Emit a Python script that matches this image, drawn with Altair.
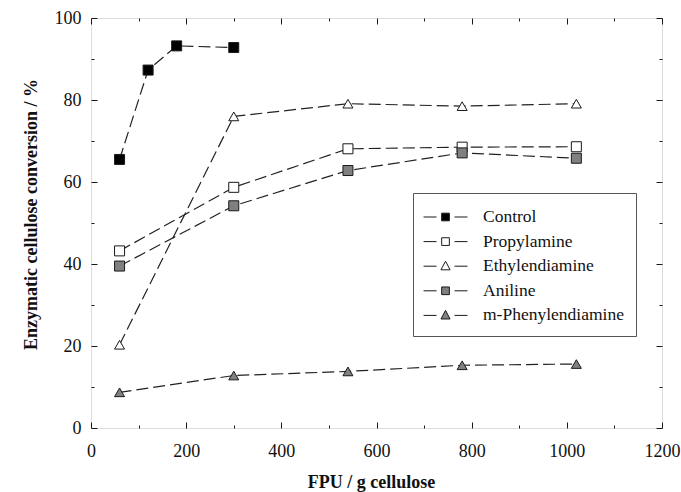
import altair as alt
import pandas as pd

series = ["Control", "Propylamine", "Ethylendiamine", "Aniline", "m-Phenylendiamine"]
control_x = [60, 120, 180, 300]
control_y = [65.5, 87.3, 93.2, 92.8]
dose_x = [60, 300, 540, 780, 1020]
propylamine_y = [43.2, 58.7, 68.1, 68.5, 68.6]
ethylendiamine_y = [20.3, 76.0, 79.1, 78.5, 79.1]
aniline_y = [39.5, 54.2, 62.8, 67.1, 65.8]
phenylendiamine_y = [8.7, 12.8, 13.8, 15.3, 15.6]

x_major = [0, 200, 400, 600, 800, 1000, 1200]
x_minor = [100, 300, 500, 700, 900, 1100]
y_major = [0, 20, 40, 60, 80, 100]
y_minor = [10, 30, 50, 70, 90]

fills = ["#000000", "#ffffff", "#ffffff", "#808080", "#808080"]
strokes = ["#1a1a1a"] * 5
shapes = ["square", "square", "triangle-up", "square", "triangle-up"]

rows = []
for xv, yv in zip(control_x, control_y):
    rows.append({"series": "Control", "x": xv, "y": yv})
for name, ys in [("Propylamine", propylamine_y), ("Ethylendiamine", ethylendiamine_y),
                 ("Aniline", aniline_y), ("m-Phenylendiamine", phenylendiamine_y)]:
    for xv, yv in zip(dose_x, ys):
        rows.append({"series": name, "x": xv, "y": yv})
df = pd.DataFrame(rows)

# legend symbols: dash - marker - dash (custom paths, shifted right)
s = 0.71
def dashes():
    return f"M{s-1.83:.3f},0L{s-0.75:.3f},0M{s+0.75:.3f},0L{s+1.83:.3f},0"
sq = dashes() + f"M{s-0.32:.3f},-0.32H{s+0.32:.3f}V0.32H{s-0.32:.3f}Z"
tri = dashes() + f"M{s:.3f},-0.42L{s+0.38:.3f},0.3L{s-0.38:.3f},0.3Z"
legend_paths = [sq, sq, tri, sq, tri]

W, H = 571, 410
xs = alt.Scale(domain=[0, 1200], nice=False, zero=False)
ys = alt.Scale(domain=[0, 100], nice=False, zero=False)

FONT = "Liberation Serif, Times New Roman, serif"

def tick_axis(orient, values, size, offset):
    return alt.Axis(orient=orient, values=values, tickSize=size, offset=offset,
                    labels=False, domain=False, title=None, grid=False,
                    tickColor="#1a1a1a", tickWidth=1)

main_x = alt.Axis(orient="bottom", values=x_major, ticks=False, domain=False,
                  labelPadding=14, labelFontSize=18, labelColor="#111111", labelFont=FONT,
                  labelFlush=False, labelOverlap=False, format="d", grid=False,
                  title="FPU / g cellulose", titleFont=FONT, titleFontSize=18,
                  titleFontWeight="bold", titleColor="#111111",
                  titleX=280, titleY=59, titleBaseline="alphabetic")
main_y = alt.Axis(orient="left", values=y_major, ticks=False, domain=False,
                  labelPadding=10, labelFontSize=18, labelColor="#111111", labelFont=FONT,
                  labelFlush=False, labelOverlap=False, format="d", grid=False,
                  title="Enzymatic cellulose conversion / %", titleFont=FONT, titleFontSize=18,
                  titleFontWeight="bold", titleColor="#111111",
                  titleX=-51, titleY=196, titleBaseline="bottom", titleAngle=270)

base = alt.Chart(df)

lines = base.mark_line(strokeDash=[12, 5], strokeWidth=1.2, color="#222222").encode(
    x=alt.X("x:Q", scale=xs, axis=main_x),
    y=alt.Y("y:Q", scale=ys, axis=main_y),
    detail="series:N",
)

points = base.mark_point(filled=True, size=100, stroke="#1a1a1a", strokeWidth=1, opacity=1).encode(
    x=alt.X("x:Q", scale=xs, axis=tick_axis("top", x_major, 6, -H)),
    y=alt.Y("y:Q", scale=ys, axis=tick_axis("right", y_major, 6, -W)),
    shape=alt.Shape("series:N", scale=alt.Scale(domain=series, range=shapes), legend=None),
    fill=alt.Fill("series:N", scale=alt.Scale(domain=series, range=fills), legend=None),
)

leg = alt.Legend(title=None, orient="none", legendX=322, legendY=175, padding=11.5,
                 rowPadding=3.6, labelFont=FONT, labelFontSize=17.5, labelColor="#111111",
                 labelOffset=33.5, strokeColor="#555555", fillColor="white",
                 symbolSize=576, symbolStrokeWidth=1, symbolStrokeColor="#1a1a1a",
                 symbolOpacity=1, cornerRadius=0)

legend_layer = base.transform_filter("false").mark_point(
    filled=True, size=576, strokeWidth=1, opacity=1).encode(
    x=alt.X("x:Q", scale=xs, axis=tick_axis("top", x_minor, 3, -H)),
    y=alt.Y("y:Q", scale=ys, axis=tick_axis("right", y_minor, 3, -W)),
    shape=alt.Shape("series:N", scale=alt.Scale(domain=series, range=legend_paths), legend=leg),
    fill=alt.Fill("series:N", scale=alt.Scale(domain=series, range=fills), legend=leg),
    stroke=alt.Stroke("series:N", scale=alt.Scale(domain=series, range=strokes), legend=leg),
)

dummy1 = base.transform_filter("false").mark_point().encode(
    x=alt.X("x:Q", scale=xs, axis=tick_axis("bottom", x_major, 6, -H)),
    y=alt.Y("y:Q", scale=ys, axis=tick_axis("left", y_major, 6, -W)),
)
dummy2 = base.transform_filter("false").mark_point().encode(
    x=alt.X("x:Q", scale=xs, axis=tick_axis("bottom", x_minor, 3, -H)),
    y=alt.Y("y:Q", scale=ys, axis=tick_axis("left", y_minor, 3, -W)),
)

chart = alt.layer(lines, points, legend_layer, dummy1, dummy2).resolve_scale(
    shape="independent", fill="independent", stroke="independent"
).resolve_axis(x="independent", y="independent").properties(
    width=W, height=H,
    autosize=alt.AutoSizeParams(type="none"),
    padding={"left": 91, "top": 18, "right": 19, "bottom": 64},
    background="white",
).configure_view(stroke="#1a1a1a", strokeWidth=1.2).configure(font=FONT)

chart.save("out.html", embed_options={"renderer": "svg", "actions": False})
